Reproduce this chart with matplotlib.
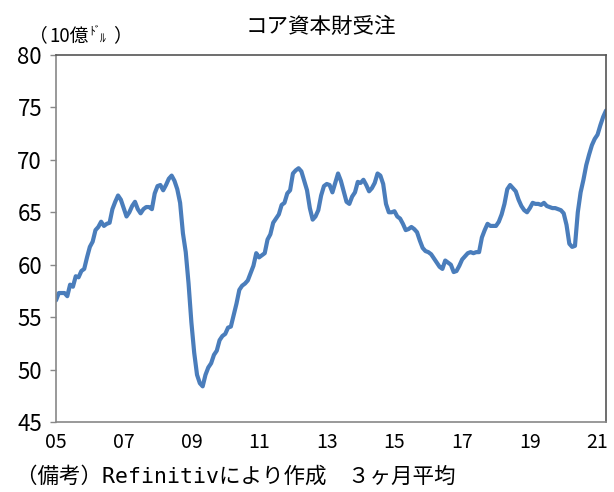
import matplotlib
matplotlib.use("Agg")
import matplotlib.pyplot as plt
import numpy as np

plt.rcParams['font.family'] = ['Noto Sans CJK JP', 'DejaVu Sans']

# 3-month average of core capital goods orders, Jan 2005 - Apr 2021 (10 bn USD)
orders = [
    56.6, 57.3, 57.3, 57.3, 57.0, 58.1, 57.9, 58.9, 58.8, 59.4, 59.6, 60.7,
    61.7, 62.2, 63.3, 63.6, 64.1, 63.7, 63.9, 64.0, 65.3, 66.0, 66.6, 66.2,
    65.4, 64.6, 65.0, 65.6, 66.0, 65.3, 64.9, 65.3, 65.5, 65.5, 65.3, 66.8,
    67.5, 67.6, 67.1, 67.6, 68.2, 68.5, 68.0, 67.2, 65.9, 63.0, 61.2, 58.2,
    54.5, 51.6, 49.5, 48.7, 48.4, 49.5, 50.2, 50.6, 51.4, 51.8, 52.8, 53.2,
    53.4, 54.0, 54.1, 55.2, 56.3, 57.6, 58.0, 58.2, 58.5, 59.2, 59.9, 61.1,
    60.7, 60.9, 61.1, 62.4, 62.9, 64.0, 64.4, 64.8, 65.7, 65.9, 66.8, 67.1,
    68.7, 69.0, 69.2, 68.9, 68.0, 67.1, 65.4, 64.3, 64.6, 65.2, 66.6, 67.5,
    67.7, 67.6, 66.9, 67.8, 68.7, 68.0, 67.0, 66.0, 65.8, 66.5, 66.9, 67.9,
    67.8, 68.1, 67.6, 67.0, 67.3, 67.8, 68.7, 68.5, 67.7, 65.8, 65.0, 65.0,
    65.1, 64.6, 64.4, 63.9, 63.3, 63.4, 63.6, 63.4, 63.1, 62.3, 61.6, 61.3,
    61.2, 61.0, 60.6, 60.2, 59.8, 59.6, 60.4, 60.2, 60.0, 59.3, 59.4, 59.9,
    60.5, 60.8, 61.1, 61.2, 61.1, 61.2, 61.2, 62.6, 63.3, 63.9, 63.7, 63.7,
    63.7, 64.1, 64.8, 65.8, 67.2, 67.6, 67.3, 67.0, 66.2, 65.6, 65.2, 65.0,
    65.4, 65.9, 65.8, 65.8, 65.7, 65.9, 65.6, 65.5, 65.4, 65.4, 65.3, 65.2,
    64.9, 63.8, 62.0, 61.7, 61.8, 65.0, 66.9, 68.1, 69.5, 70.5, 71.4, 72.0,
    72.4, 73.3, 74.1, 74.7,
]
start_year = 2005
xtick_years = [2005, 2007, 2009, 2011, 2013, 2015, 2017, 2019, 2021]
xtick_labels = ["05", "07", "09", "11", "13", "15", "17", "19", "21"]
yticks = [45, 50, 55, 60, 65, 70, 75, 80]

W, H = 614, 492
note_font = ['DejaVu Sans Mono', 'Noto Sans CJK JP']

def fx(px):
    return px / W

def fy(py):
    return 1 - py / H

months = np.arange(len(orders))

fig = plt.figure(figsize=(W / 100, H / 100), dpi=100)
ax = fig.add_axes([fx(56), fy(422), fx(606) - fx(56), fy(55) - fy(422)])

ax.plot(months, orders, color="#4a7dbb", linewidth=3, solid_capstyle="round")

ax.set_xlim(0, len(orders) - 1)
ax.set_ylim(45, 80)
ax.set_yticks(yticks)
ax.set_yticklabels([str(v) for v in yticks], fontsize=16)
ax.set_xticks([(y - start_year) * 12 for y in xtick_years])
ax.set_xticklabels(xtick_labels, fontsize=14)
ax.tick_params(axis="y", direction="out", length=4, width=1, color="#888888", pad=6)
ax.tick_params(axis="x", length=0, pad=7)

ax.spines["left"].set_color("#888888")
ax.spines["bottom"].set_color("#888888")
ax.spines["top"].set_color("#555555")
ax.spines["right"].set_color("#555555")
for s in ax.spines.values():
    s.set_linewidth(1.2)

fig.text(fx(321), fy(27), "コア資本財受注", ha="center", va="center", fontsize=15.5)

# unit label (10億ﾄﾞﾙ)
fig.text(fx(29), fy(36), "（", ha="left", va="center", fontsize=13.5)
fig.text(fx(49), fy(36), "10億", ha="left", va="center", fontsize=13.5)
fig.text(fx(89), fy(31), "ﾄﾞ", ha="left", va="center", fontsize=8.5)
fig.text(fx(100), fy(38), "ﾙ", ha="left", va="center", fontsize=8.5)
fig.text(fx(113), fy(36), "）", ha="left", va="center", fontsize=13.5)

fig.text(fx(16), fy(476), "（備考）Refinitivにより作成　３ヶ月平均",
         ha="left", va="center", fontsize=15.5, family=note_font)

fig.savefig("out.png", dpi=100)
